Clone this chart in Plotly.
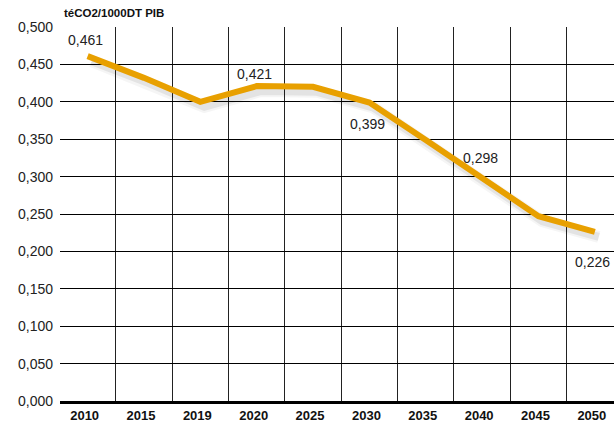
import plotly.graph_objects as go

years = ["2010", "2015", "2019", "2020", "2025", "2030", "2035", "2040", "2045", "2050"]
intensity = [0.461, 0.432, 0.400, 0.421, 0.420, 0.399, 0.349, 0.298, 0.247, 0.226]
labelled = [True, False, False, True, False, True, False, True, False, True]
label_shift = [16, 0, 0, 12, 0, -21, 0, 20, 0, -30]
y_ticks = [0.0, 0.05, 0.1, 0.15, 0.2, 0.25, 0.3, 0.35, 0.4, 0.45, 0.5]
unit_title = "téCO2/1000DT PIB"

W, H = 614, 430
ML, MR, MT, MB = 60, 0, 27, 29
PW, PH = W - ML - MR, H - MT - MB
xr = [-0.49, 9.34]
yr = [0.0, 0.5]
px_per_x = PW / (xr[1] - xr[0])
px_per_y = PH / (yr[1] - yr[0])
sdx, sdy = 4, 5  # shadow offset in px

idx = list(range(len(years)))

fig = go.Figure()

# invisible trace so the visible grid axes are drawn
fig.add_trace(go.Scatter(
    x=idx, y=intensity, mode="lines", line=dict(width=0, color="rgba(0,0,0,0)"),
    hoverinfo="skip", showlegend=False))

# soft shadow on a shifted, invisible axis pair
for w, a in [(12, 0.04), (8, 0.07)]:
    fig.add_trace(go.Scatter(
        x=idx, y=intensity, mode="lines",
        line=dict(color=f"rgba(0,0,0,{a})", width=w),
        xaxis="x2", yaxis="y2", hoverinfo="skip", showlegend=False))

# main line on an invisible axis pair identical to the visible one
fig.add_trace(go.Scatter(
    x=idx, y=intensity, mode="lines",
    line=dict(color="#E8A000", width=6),
    xaxis="x3", yaxis="y3", showlegend=False))

for i, v in enumerate(intensity):
    if labelled[i]:
        fig.add_annotation(
            x=i, y=v, text=f"{v:.3f}".replace(".", ","), showarrow=False,
            yshift=label_shift[i], xshift=-2, font=dict(size=14, color="#222"),
            xref="x3", yref="y3")

fig.add_annotation(
    x=0, y=1, xref="paper", yref="paper", xanchor="left", yanchor="bottom",
    yshift=6, xshift=2, text=f"<b>{unit_title}</b>", showarrow=False,
    font=dict(size=11.5, color="#111"))

fig.update_layout(
    width=W, height=H,
    margin=dict(l=ML, r=MR, t=MT, b=MB),
    paper_bgcolor="white", plot_bgcolor="rgba(0,0,0,0)",
    separators=",.",
    font=dict(family="Arial, Liberation Sans, sans-serif", color="#222"),
    xaxis=dict(
        range=xr, tickvals=idx, ticktext=[f"<b>{y}</b>" for y in years],
        ticks="", showgrid=False,
        minor=dict(tickvals=[i + 0.5 for i in idx], showgrid=True,
                   gridcolor="#222", gridwidth=1, ticks=""),
        showline=True, linecolor="black", linewidth=3, zeroline=False,
        tickfont=dict(size=13, color="#111"), ticklabelshift=-3,
    ),
    yaxis=dict(
        range=yr, tickvals=y_ticks, tickformat=".3f", showgrid=True,
        gridcolor="black", gridwidth=1, zeroline=False, ticks="",
        tickfont=dict(size=14, color="#222"), ticklabelstandoff=6,
    ),
    xaxis2=dict(
        domain=[sdx / PW, 1], range=[xr[0], xr[1] - sdx / px_per_x],
        anchor="y2", visible=False, showgrid=False,
    ),
    yaxis2=dict(
        domain=[0, 1 - sdy / PH], range=[yr[1] - (PH - sdy) / px_per_y, yr[1]],
        anchor="x2", visible=False, showgrid=False,
    ),
    xaxis3=dict(domain=[0, 1], range=xr, anchor="y3", visible=False, showgrid=False),
    yaxis3=dict(domain=[0, 1], range=yr, anchor="x3", visible=False, showgrid=False),
)

fig.write_html("out.html", config={"displayModeBar": False},
               post_script="document.body.style.margin='0';")
